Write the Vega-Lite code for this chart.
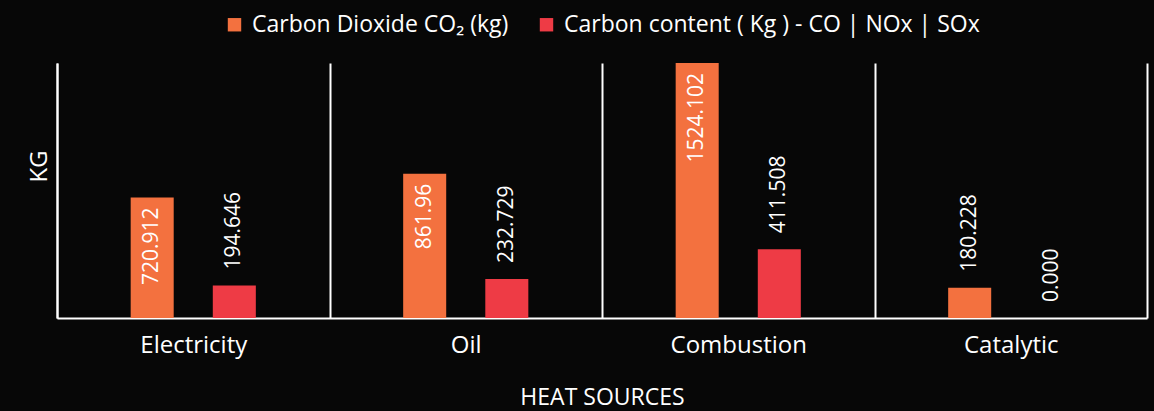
{
  "$schema": "https://vega.github.io/schema/vega-lite/v6.json",
  "autosize": {"type": "none"},
  "padding": {"left": 57, "top": 63, "right": 7, "bottom": 93},
  "width": 1090,
  "height": 255,
  "background": "#070707",
  "config": {
    "font": "Open Sans",
    "view": {"stroke": null}
  },
  "data": {
    "values": [
      {"source": "Electricity", "series": "Carbon Dioxide CO₂ (kg)", "value": 720.912, "label": "720.912"},
      {"source": "Electricity", "series": "Carbon content ( Kg ) - CO | NOx | SOx", "value": 194.646, "label": "194.646"},
      {"source": "Oil", "series": "Carbon Dioxide CO₂ (kg)", "value": 861.96, "label": "861.96"},
      {"source": "Oil", "series": "Carbon content ( Kg ) - CO | NOx | SOx", "value": 232.729, "label": "232.729"},
      {"source": "Combustion", "series": "Carbon Dioxide CO₂ (kg)", "value": 1524.102, "label": "1524.102"},
      {"source": "Combustion", "series": "Carbon content ( Kg ) - CO | NOx | SOx", "value": 411.508, "label": "411.508"},
      {"source": "Catalytic", "series": "Carbon Dioxide CO₂ (kg)", "value": 180.228, "label": "180.228"},
      {"source": "Catalytic", "series": "Carbon content ( Kg ) - CO | NOx | SOx", "value": 0, "label": "0.000"}
    ]
  },
  "encoding": {
    "x": {
      "field": "source", "type": "nominal",
      "sort": ["Electricity", "Oil", "Combustion", "Catalytic"],
      "scale": {"paddingInner": 0, "paddingOuter": 0},
      "axis": {
        "title": "HEAT SOURCES", "titleColor": "#ffffff", "titleFontSize": 23, "titleFontWeight": "normal", "titlePadding": 29,
        "labelAngle": 0, "labelColor": "#ffffff", "labelFontSize": 24, "labelPadding": 15,
        "ticks": false, "domain": true, "domainColor": "#ffffff", "domainWidth": 2,
        "grid": true, "gridColor": "#ffffff", "gridWidth": 2, "gridOpacity": 1, "tickBand": "extent"
      }
    },
    "xOffset": {
      "field": "series", "type": "nominal",
      "scale": {"paddingInner": 0.476, "paddingOuter": 0.897}
    },
    "y": {
      "field": "value", "type": "quantitative",
      "scale": {"domain": [0, 1524.102], "nice": false},
      "axis": {
        "title": "KG", "titleColor": "#ffffff", "titleFontSize": 24, "titleFontWeight": "normal", "titlePadding": 6, "titleY": 103,
        "labels": false, "ticks": false, "grid": false, "domain": true, "domainColor": "#ffffff", "domainWidth": 2
      }
    }
  },
  "layer": [
    {
      "mark": {"type": "bar"},
      "encoding": {
        "color": {
          "field": "series", "type": "nominal",
          "scale": {"domain": ["Carbon Dioxide CO₂ (kg)", "Carbon content ( Kg ) - CO | NOx | SOx"], "range": ["#F3713F", "#EE3B45"]},
          "legend": {
            "title": null, "orient": "none", "direction": "horizontal",
            "legendX": 166, "legendY": -50,
            "symbolType": "square", "symbolSize": 180, "symbolStrokeWidth": 0, "symbolOpacity": 1,
            "labelColor": "#ffffff", "labelFontSize": 23, "labelLimit": 600, "columnPadding": 26, "labelOffset": 6
          }
        }
      }
    },
    {
      "transform": [{"filter": "datum.value < 600"}],
      "mark": {"type": "text", "angle": -90, "align": "left", "baseline": "middle", "dx": 16, "color": "#ffffff", "fontSize": 21},
      "encoding": {"text": {"field": "label"}}
    },
    {
      "transform": [{"filter": "datum.value >= 600"}],
      "mark": {"type": "text", "angle": -90, "align": "right", "baseline": "middle", "dx": -10, "color": "#ffffff", "fontSize": 21},
      "encoding": {"text": {"field": "label"}}
    }
  ]
}
